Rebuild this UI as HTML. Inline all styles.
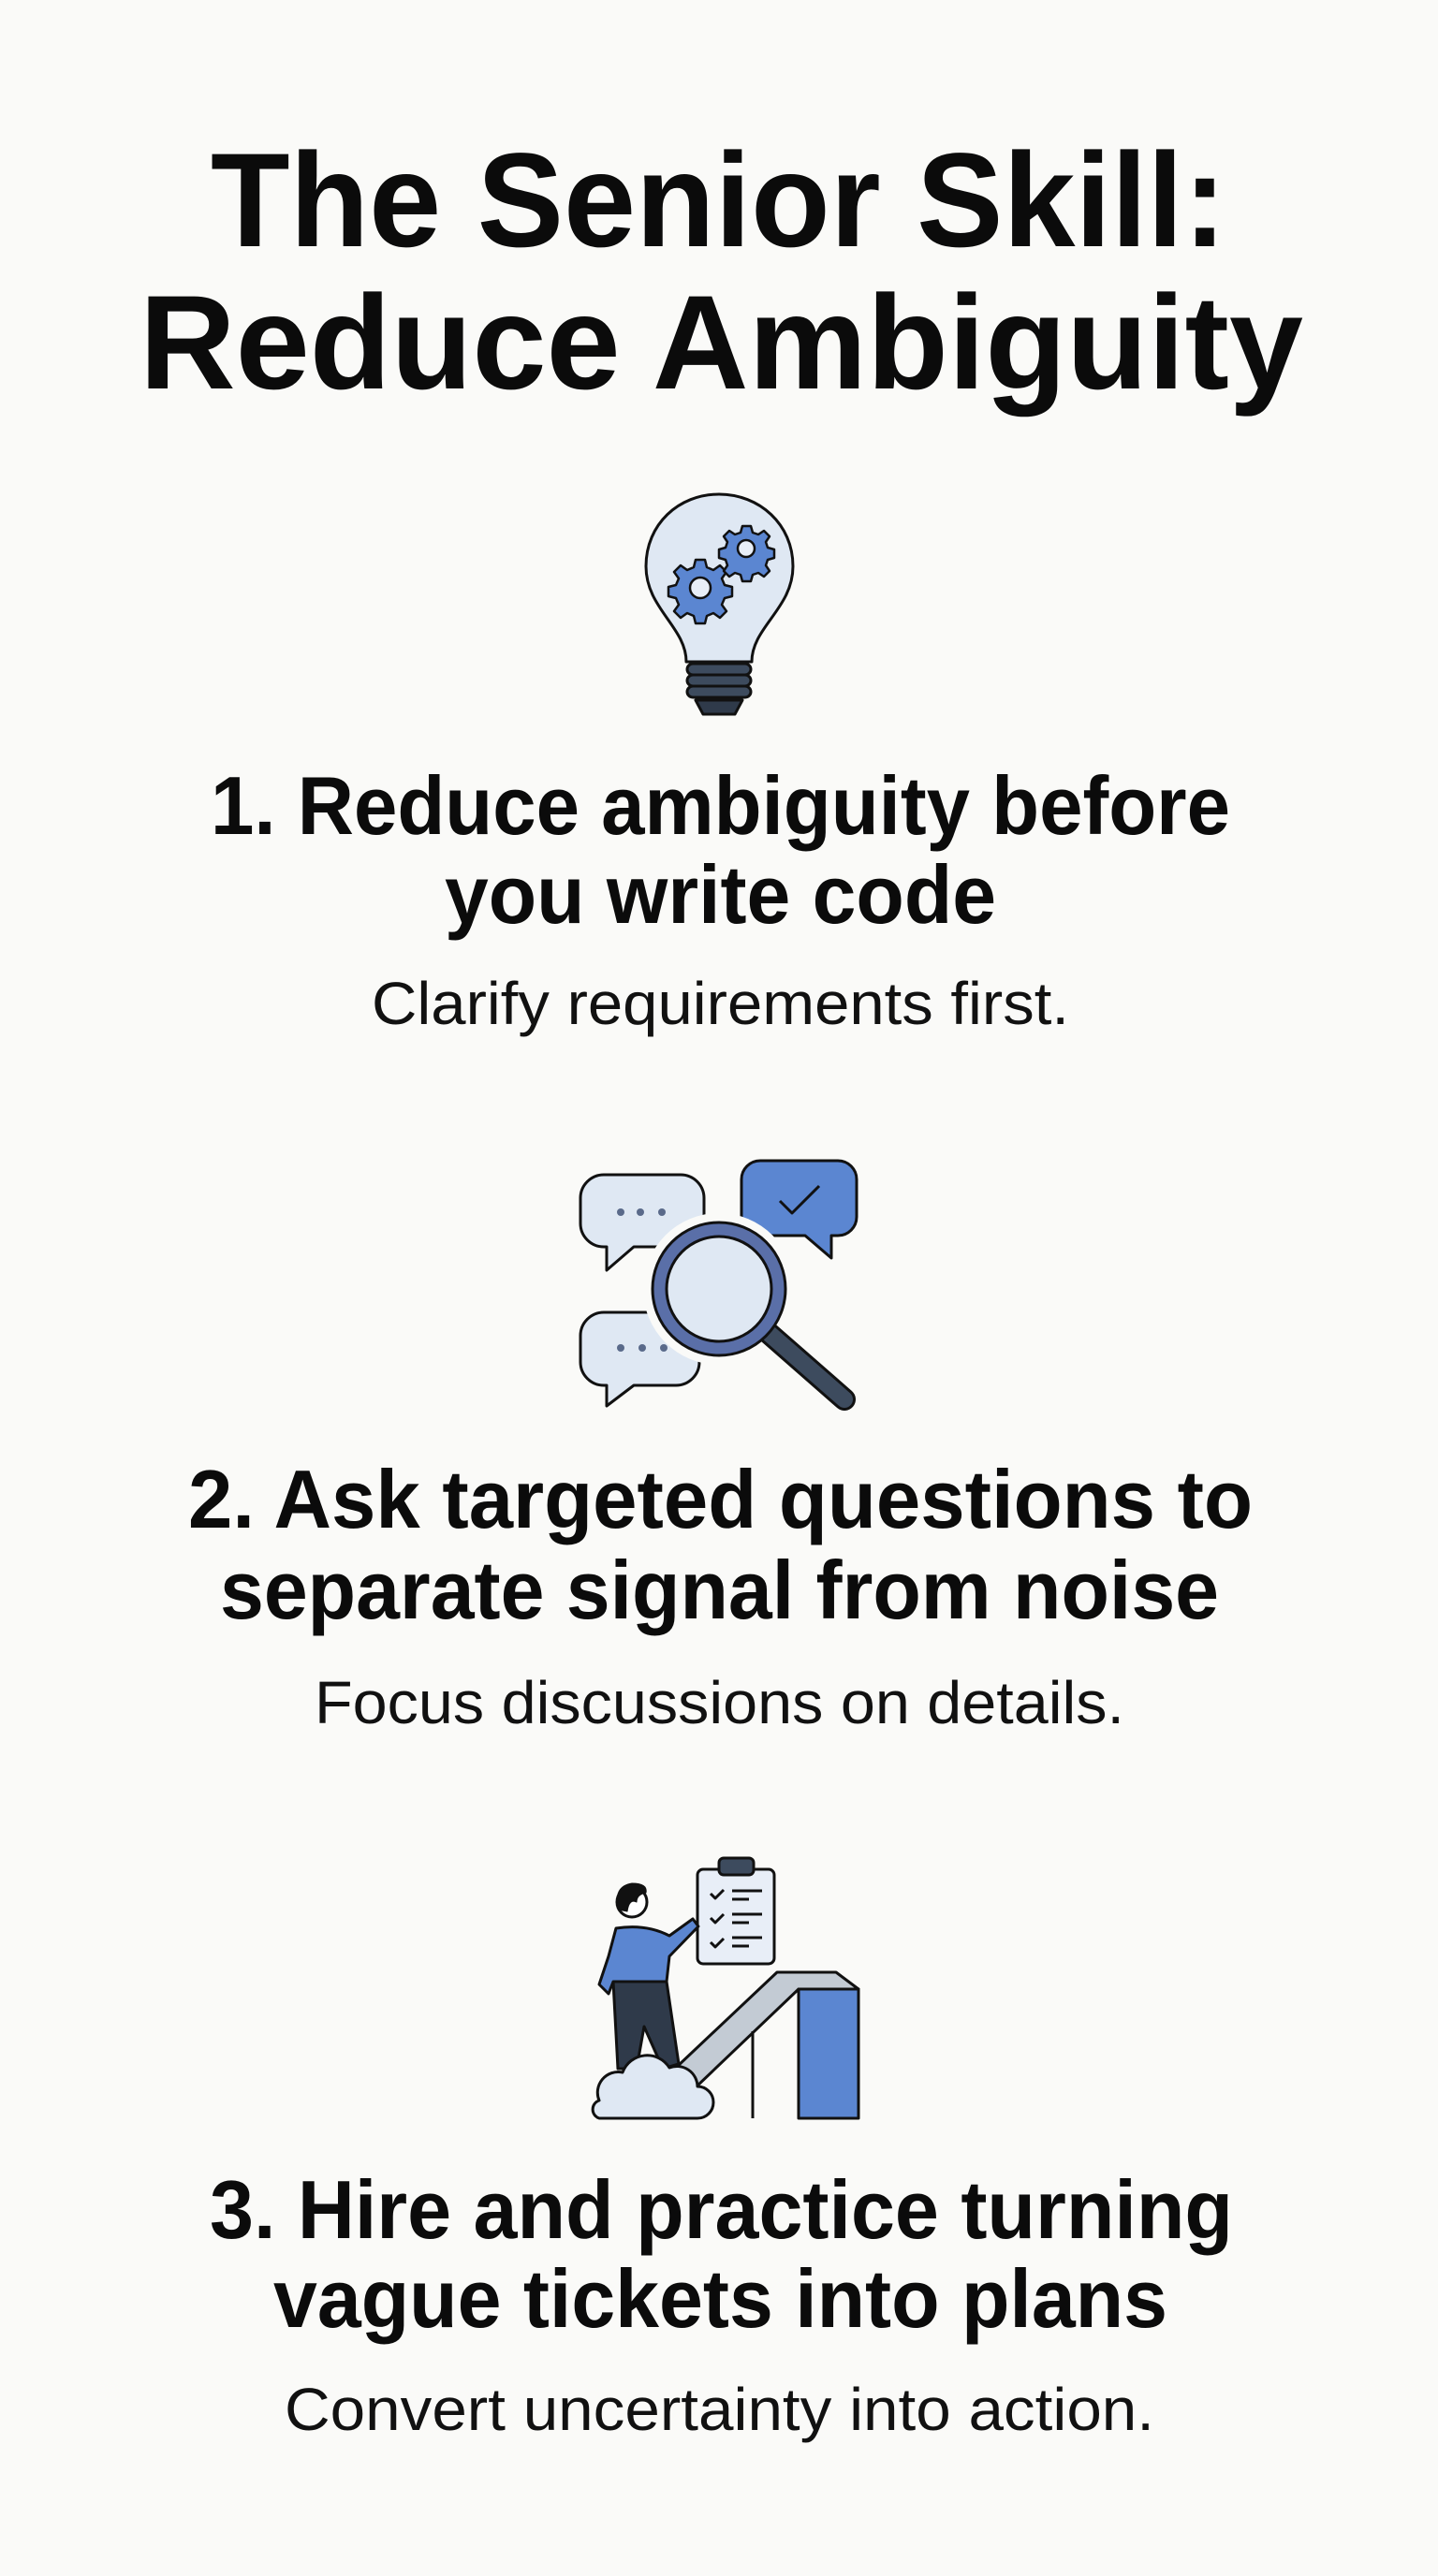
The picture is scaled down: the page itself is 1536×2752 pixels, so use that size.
<!DOCTYPE html>
<html><head><meta charset="utf-8"><style>
html,body{margin:0;padding:0;background:#fafaf8}
svg{display:block}
.t{font-family:"Liberation Sans",Arial,sans-serif;font-weight:bold;fill:#0b0b0b}
.s{font-family:"Liberation Sans",Arial,sans-serif;font-weight:normal;fill:#111}
</style></head><body>
<svg width="1536" height="2752" viewBox="0 0 1536 2752" xmlns="http://www.w3.org/2000/svg">
<rect width="1536" height="2752" fill="#fafaf8"/>
<text class="t" x="225" y="263" font-size="143" textLength="1085" lengthAdjust="spacingAndGlyphs">The Senior Skill:</text>
<text class="t" x="149" y="415" font-size="143" textLength="1243" lengthAdjust="spacingAndGlyphs">Reduce Ambiguity</text>

<!-- bulb -->
<g stroke="#111" stroke-width="3" stroke-linejoin="round">
<path d="M733,707 C733,670 690,650 690,605 C690,560 725,528 768,528 C811,528 847,560 847,605 C847,650 803,670 803,707 Z" fill="#dfe8f3"/>
<path d="M743,748 L793,748 L785,763 L751,763 Z" fill="#2f3a4a"/>
<rect x="734" y="709" width="68" height="12" rx="6" fill="#3d4b5e"/>
<rect x="734" y="721" width="68" height="12" rx="6" fill="#3d4b5e"/>
<rect x="734" y="733" width="68" height="12" rx="6" fill="#3d4b5e"/>
<g fill="#5b86d1" stroke-width="2.5">
<path d="M743,598 h10 l2,8 l7,3 l7,-5 l7,7 l-5,7 l3,7 l8,2 v10 l-8,2 l-3,7 l5,7 l-7,7 l-7,-5 l-7,3 l-2,8 h-10 l-2,-8 l-7,-3 l-7,5 l-7,-7 l5,-7 l-3,-7 l-8,-2 v-10 l8,-2 l3,-7 l-5,-7 l7,-7 l7,5 l7,-3 Z"/>
<circle cx="748" cy="628" r="11" fill="#e8eef7"/>
<path d="M793,562 h9 l2,7 l6,2 l6,-4 l6,6 l-4,6 l2,6 l7,2 v9 l-7,2 l-2,6 l4,6 l-6,6 l-6,-4 l-6,2 l-2,7 h-9 l-2,-7 l-6,-2 l-6,4 l-6,-6 l4,-6 l-2,-6 l-7,-2 v-9 l7,-2 l2,-6 l-4,-6 l6,-6 l6,4 l6,-2 Z"/>
<circle cx="797" cy="586" r="9" fill="#e8eef7"/>
</g></g>

<text class="t" x="225" y="891" font-size="88" textLength="1089" lengthAdjust="spacingAndGlyphs">1. Reduce ambiguity before</text>
<text class="t" x="475" y="986" font-size="88" textLength="589" lengthAdjust="spacingAndGlyphs">you write code</text>
<text class="s" x="397" y="1094" font-size="64" textLength="745" lengthAdjust="spacingAndGlyphs">Clarify requirements first.</text>

<!-- icon 2 -->
<g stroke="#111" stroke-width="3" stroke-linejoin="round">
<path d="M645,1255 h82 a25,25 0 0 1 25,25 v27 a25,25 0 0 1 -25,25 h-50 l-29,25 v-25 h-3 a25,25 0 0 1 -25,-25 v-27 a25,25 0 0 1 25,-25 Z" fill="#dfe8f3"/>
<path d="M645,1402 h77 a25,25 0 0 1 25,25 v28 a25,25 0 0 1 -25,25 h-45 l-29,22 v-22 h-3 a25,25 0 0 1 -25,-25 v-28 a25,25 0 0 1 25,-25 Z" fill="#dfe8f3"/>
<path d="M812,1240 h83 a20,20 0 0 1 20,20 v40 a20,20 0 0 1 -20,20 h-7 v24 l-28,-24 h-48 a20,20 0 0 1 -20,-20 v-40 a20,20 0 0 1 20,-20 Z" fill="#5b86d1"/>
<path d="M833,1283 l13,13 l29,-29" fill="none" stroke-width="3"/>
</g>
<g fill="#5a6a8a"><circle cx="663" cy="1295" r="4"/><circle cx="684" cy="1295" r="4"/><circle cx="707" cy="1295" r="4"/><circle cx="663" cy="1440" r="4"/><circle cx="686" cy="1440" r="4"/><circle cx="709" cy="1440" r="4"/></g>
<circle cx="768" cy="1377" r="81" fill="#fafaf8"/>
<g stroke="#111" stroke-width="3">
<path d="M822,1425 L902,1495" stroke="#111" stroke-width="24" stroke-linecap="round"/>
<path d="M822,1425 L902,1495" stroke="#3d4b5e" stroke-width="18" stroke-linecap="round"/>
<circle cx="768" cy="1377" r="71" fill="#5a6fa8"/>
<circle cx="768" cy="1377" r="56" fill="#dfe8f3"/>
</g>

<text class="t" x="201" y="1632" font-size="88" textLength="1137" lengthAdjust="spacingAndGlyphs">2. Ask targeted questions to</text>
<text class="t" x="235" y="1729" font-size="88" textLength="1067" lengthAdjust="spacingAndGlyphs">separate signal from noise</text>
<text class="s" x="336" y="1841" font-size="64" textLength="865" lengthAdjust="spacingAndGlyphs">Focus discussions on details.</text>

<!-- icon 3 -->
<g stroke="#111" stroke-width="3" stroke-linejoin="round">
<path d="M723,2208 L830,2107 L893,2107 L917,2125 L853,2125 L743,2230 Z" fill="#c3cbd4"/>
<rect x="853" y="2125" width="64" height="138" fill="#5b86d1"/>
<line x1="804" y1="2170" x2="804" y2="2263"/>
<rect x="745" y="1997" width="82" height="101" rx="6" fill="#e8eef7"/>
<rect x="768" y="1985" width="37" height="18" rx="5" fill="#3d4b5e"/>
<g fill="none" stroke-width="3"><path d="M759,2023 l5,5 l9,-9 M759,2049 l5,5 l9,-9 M759,2075 l5,5 l9,-9"/>
<path d="M782,2020 h32 M782,2029 h18 M782,2045 h32 M782,2054 h18 M782,2070 h32 M782,2079 h18"/></g>
<path d="M655,2117 L712,2117 L725,2205 L708,2210 L688,2165 L680,2210 L660,2210 Z" fill="#2f3a4a"/>
<path d="M658,2060 Q690,2055 715,2068 L740,2050 L746,2058 L715,2090 L712,2117 L655,2117 L650,2130 L640,2120 L650,2090 Z" fill="#5b86d1"/>
<circle cx="675" cy="2032" r="16" fill="#fff"/>
<path d="M660,2040 Q655,2015 675,2012 Q692,2012 690,2022 Q680,2024 680,2032 Q672,2028 670,2042 Z" fill="#111" stroke-width="1"/>
<path d="M640,2263 h105 a17,17 0 0 0 0,-34 a22,22 0 0 0 -30,-20 a28,28 0 0 0 -50,5 a22,22 0 0 0 -25,30 a10,10 0 0 0 0,19 Z" fill="#dfe8f3"/>
</g>

<text class="t" x="224" y="2391" font-size="88" textLength="1093" lengthAdjust="spacingAndGlyphs">3. Hire and practice turning</text>
<text class="t" x="292" y="2486" font-size="88" textLength="955" lengthAdjust="spacingAndGlyphs">vague tickets into plans</text>
<text class="s" x="304" y="2596" font-size="64" textLength="929" lengthAdjust="spacingAndGlyphs">Convert uncertainty into action.</text>
</svg>
</body></html>
